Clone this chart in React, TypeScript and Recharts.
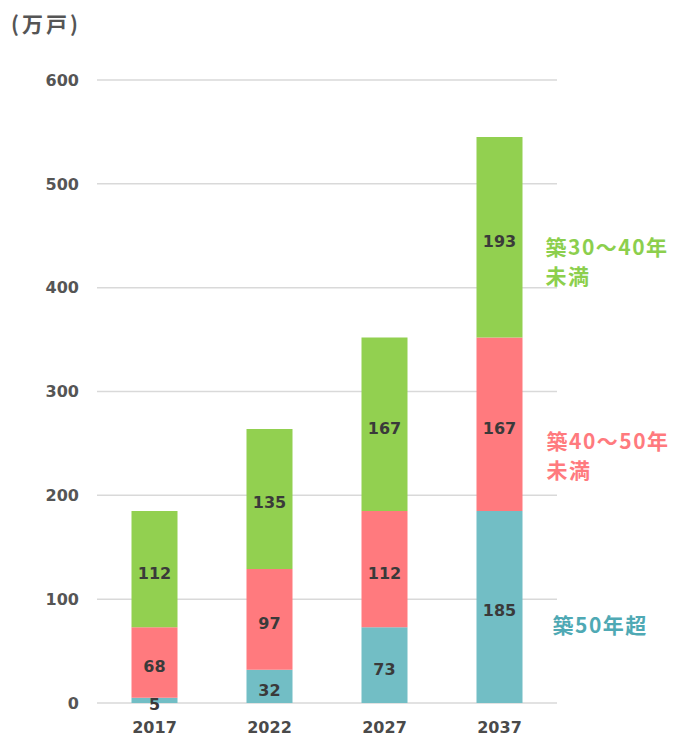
import React from "react";
import { BarChart, Bar, XAxis, YAxis, CartesianGrid, LabelList } from "recharts";

// Condominium stock by building age (10k units)
const years = ["2017", "2022", "2027", "2037"];
const over50 = [5, 32, 73, 185];
const age40to50 = [68, 97, 112, 167];
const age30to40 = [112, 135, 167, 193];
const yTicks = [0, 100, 200, 300, 400, 500, 600];

const seriesNames = {
  over50: ["築50年超"],
  age40to50: ["築40〜50年", "未満"],
  age30to40: ["築30〜40年", "未満"],
};

const data = years.map((year, i) => ({
  year,
  over50: over50[i],
  age40to50: age40to50[i],
  age30to40: age30to40[i],
}));

const NUM_FONT = "'DejaVu Sans', Verdana, sans-serif";
const JP_FONT = "'Noto Sans CJK JP', 'Noto Sans', sans-serif";

const COLORS = {
  over50: "#72bec5",
  age40to50: "#ff7a7e",
  age30to40: "#92d050",
};
const NAME_COLORS = {
  over50: "#4fa9b4",
  age40to50: "#ff7a7e",
  age30to40: "#8ccf4d",
};

// Series name placed beside the last bar's segment
const makeSeriesName =
  (lines: string[], color: string, dx: number, dy: number) => (props: any) => {
    const { x, y, width, height, index } = props;
    if (index !== years.length - 1) return null;
    const cx = Number(x) + Number(width) + dx;
    const cy = Number(y) + Number(height) / 2 + dy;
    return (
      <text
        x={cx}
        y={cy}
        fill={color}
        fontFamily={JP_FONT}
        fontWeight={700}
        fontSize={21}
        letterSpacing={1.5}
      >
        {lines.map((line, k) => (
          <tspan key={k} x={cx} dy={k === 0 ? 0 : 29}>
            {line}
          </tspan>
        ))}
      </text>
    );
  };

// Segment value, centred in its bar segment
const ValueLabel = (props: any) => {
  const { x, y, width, height, value } = props;
  return (
    <text
      x={Number(x) + Number(width) / 2}
      y={Number(y) + Number(height) / 2 + 4}
      textAnchor="middle"
      dominantBaseline="central"
      fill="#3a3a3a"
      fontFamily={NUM_FONT}
      fontWeight={700}
      fontSize={16}
    >
      {value}
    </text>
  );
};

export default function App() {
  return (
    <div style={{ position: "absolute", left: 0, top: 0, width: 676, height: 737, background: "#fff" }}>
      <div
        style={{
          position: "absolute",
          left: 11,
          top: 8,
          fontFamily: JP_FONT,
          fontWeight: 700,
          fontSize: 21,
          letterSpacing: 3,
          color: "#555",
          lineHeight: "30px",
        }}
      >
        (万戸)
      </div>
      <BarChart
        width={676}
        height={737}
        data={data}
        margin={{ top: 80, right: 119, bottom: 4, left: 37 }}
        barCategoryGap="30%"
      >
        <CartesianGrid vertical={false} stroke="#d9d9d9" strokeWidth={1.5} />
        <XAxis
          dataKey="year"
          axisLine={false}
          tickLine={false}
          tickSize={0}
          tickMargin={19}
          height={30}
          tick={{ fill: "#4a4a4a", fontFamily: NUM_FONT, fontWeight: 700, fontSize: 16 }}
        />
        <YAxis
          domain={[0, 600]}
          ticks={yTicks}
          axisLine={false}
          tickLine={false}
          tickSize={0}
          tickMargin={18}
          width={60}
          tick={{ fill: "#555", fontFamily: NUM_FONT, fontWeight: 700, fontSize: 16 }}
        />
        <Bar dataKey="over50" stackId="a" fill={COLORS.over50} isAnimationActive={false}>
          <LabelList dataKey="over50" content={ValueLabel} />
          <LabelList
            dataKey="over50"
            content={makeSeriesName(seriesNames.over50, NAME_COLORS.over50, 30, 26)}
          />
        </Bar>
        <Bar dataKey="age40to50" stackId="a" fill={COLORS.age40to50} isAnimationActive={false}>
          <LabelList dataKey="age40to50" content={ValueLabel} />
          <LabelList
            dataKey="age40to50"
            content={makeSeriesName(seriesNames.age40to50, NAME_COLORS.age40to50, 24, 25)}
          />
        </Bar>
        <Bar dataKey="age30to40" stackId="a" fill={COLORS.age30to40} isAnimationActive={false}>
          <LabelList dataKey="age30to40" content={ValueLabel} />
          <LabelList
            dataKey="age30to40"
            content={makeSeriesName(seriesNames.age30to40, NAME_COLORS.age30to40, 23, 18)}
          />
        </Bar>
      </BarChart>
    </div>
  );
}
